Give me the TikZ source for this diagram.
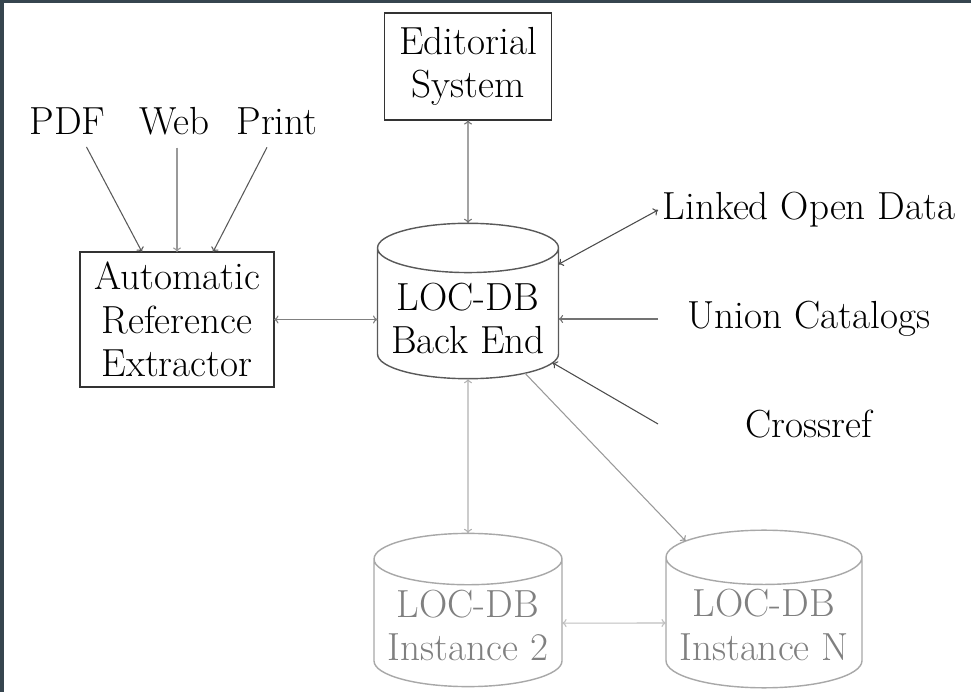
\documentclass[tikz,border=0pt]{standalone}
\usetikzlibrary{shapes.geometric,arrows.meta,calc}
\definecolor{framebar}{HTML}{36454F}
\definecolor{dbgray}{HTML}{A8A8A8}
\definecolor{dbtext}{HTML}{808080}
% a taller first line pushes the label down inside the cylinder body
\newcommand{\dbraise}[1]{\rule{0pt}{#1}}
\begin{document}
\begin{tikzpicture}[x=0.02cm,y=-0.02cm,
  >={To[length=2.6pt,width=4.6pt]},
  every node/.style={font=\fontsize{22.3}{24.8}\selectfont, align=center, inner sep=0pt, outer sep=0pt},
  boxnode/.style={draw=black!80, line width=1.1pt},
  dbnode/.style={cylinder, shape border rotate=90, aspect=0.32, draw=black!65, line width=0.8pt, anchor=shape center},
  dbfaint/.style={dbnode, draw=dbgray, text=dbtext},
  srclabel/.style={anchor=base},
  sidelabel/.style={minimum width=6.04cm},
  link/.style={line width=0.6pt}
]
\useasboundingbox (0,0) rectangle (971,692);
\fill[white] (0,0) rectangle (971,692);
\fill[framebar] (0,0) rectangle (971,3);
\fill[framebar] (0,0) rectangle (4,692);

% boxes
\node[boxnode, minimum width=3.34cm, minimum height=2.14cm] (editorial) at (468,66.5) {Editorial\\System};
\node[boxnode, minimum width=3.88cm, minimum height=2.7cm] (extractor) at (177,319.5) {Automatic\\Reference\\Extractor};

% input formats
\node[srclabel] (pdf) at (67.5,135) {PDF};
\node[srclabel] (web) at (174.5,135) {Web};
\node[srclabel] (print) at (277,135) {Print};

% databases
\node[dbnode, minimum width=3.62cm, minimum height=2.69cm] (backend) at (468,301) {\dbraise{21pt}LOC-DB\\Back End};
\node[dbfaint, minimum width=3.76cm, minimum height=2.8cm] (inst2) at (468,610) {\dbraise{18pt}LOC-DB\\Instance 2};
\node[dbfaint, minimum width=3.92cm, minimum height=2.8cm] (instN) at (764,609) {\dbraise{18pt}LOC-DB\\Instance N};

% external sources
\node[sidelabel] (lod) at (809,210) {Linked Open Data};
\node[sidelabel] (union) at (809,319) {Union Catalogs};
\node[sidelabel] (crossref) at (809,424) {Crossref};

% connectors
\draw[link, ->, black!65] ($(pdf.south)+(19,12)$) -- ($(extractor.north)+(-35,0)$);
\draw[link, ->, black!40] ($(web.south -| extractor.north)+(0,12)$) -- (extractor.north);
\draw[link, ->, black!65] ($(print.south)+(-10,12)$) -- ($(extractor.north)+(36,0)$);
\draw[link, <->, black!50] (extractor) -- (extractor -| backend.west);
\draw[link, <->, black!55] (editorial) -- (backend);
\draw[link, <->, black!70] (lod.west) -- (backend);
\draw[link, ->, black!55] (union.west) -- (union.west -| backend.east);
\draw[link, ->, black!70] (crossref.west) -- (backend);
\draw[link, <->, black!30] (backend) -- (inst2);
\draw[link, ->, black!40] (backend) -- (instN);
\draw[link, <->, black!25] (inst2) -- (instN);
\end{tikzpicture}
\end{document}
